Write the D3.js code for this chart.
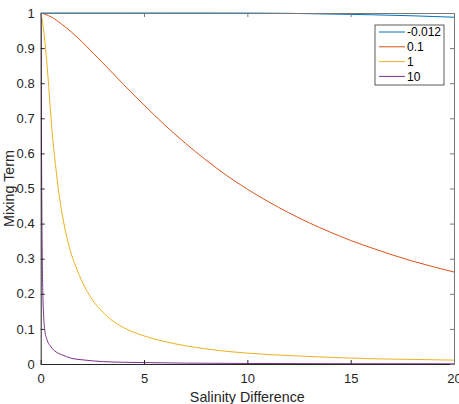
<!DOCTYPE html>
<html>
<head>
<meta charset="utf-8">
<script src="https://cdn.jsdelivr.net/npm/d3@7"></script>
<style>
body { margin: 0; background: #fff; }
svg { display: block; font-family: "Liberation Sans", Arial, Helvetica, sans-serif; }
</style>
</head>
<body>
<svg id="chart" width="459" height="404"></svg>
<script>
// ---- data ----
const seriesNames = ["-0.012", "0.1", "1", "10"];

const blueX = [0, 2, 4, 6, 8, 10, 11, 12, 13, 14, 15, 16, 17, 18, 19, 20];
const blueY = [1, 1, 1, 1, 1, 0.9998, 0.9995, 0.999, 0.998, 0.997, 0.996, 0.995, 0.9935, 0.992, 0.990, 0.988];

const redX = [0, 0.5, 1, 1.5, 2, 2.5, 3, 4, 5, 6, 7, 8, 9, 10, 11, 12, 13, 14, 15, 16, 17, 18, 19, 20];
const redY = [1, 0.989, 0.969, 0.945, 0.918, 0.888, 0.858, 0.797, 0.738, 0.681, 0.629, 0.581, 0.537, 0.498, 0.463, 0.431, 0.402, 0.376, 0.352, 0.331, 0.311, 0.293, 0.277, 0.262];

const yellowX = [0, 0.1, 0.2, 0.35, 0.5, 0.6, 0.75, 0.85, 1, 1.25, 1.5, 1.75, 2, 2.5, 3, 3.5, 4, 5, 6, 7, 8, 9, 10, 12, 14, 16, 18, 20];
const yellowY = [1, 0.97, 0.92, 0.82, 0.70, 0.63, 0.55, 0.50, 0.44, 0.365, 0.31, 0.27, 0.235, 0.183, 0.148, 0.122, 0.104, 0.080, 0.064, 0.052, 0.043, 0.036, 0.031, 0.024, 0.019, 0.015, 0.013, 0.011];

const purpleX = [0, 0.02, 0.04, 0.06, 0.08, 0.1, 0.15, 0.2, 0.3, 0.5, 0.75, 1, 1.5, 2, 3, 4, 5, 7, 10, 15, 20];
const purpleY = [1, 0.85, 0.6, 0.4, 0.28, 0.21, 0.13, 0.095, 0.07, 0.049, 0.034, 0.027, 0.016, 0.012, 0.0068, 0.005, 0.004, 0.0025, 0.0015, 0.0008, 0.0005];

const xTicks = [0, 5, 10, 15, 20];
const yTicks = [0, 0.1, 0.2, 0.3, 0.4, 0.5, 0.6, 0.7, 0.8, 0.9, 1];
const colors = ["#0072BD", "#D95319", "#EDB120", "#7E2F8E"];

// ---- layout ----
const W = 459, H = 404;
const m = { left: 40.7, right: 5, top: 13, bottom: 40 };
const pw = W - m.left - m.right, ph = H - m.top - m.bottom;

const svg = d3.select("#chart");
const g = svg.append("g").attr("transform", `translate(${m.left},${m.top})`);

const x = d3.scaleLinear().domain([0, 20]).range([0, pw]);
const y = d3.scaleLinear().domain([0, 1]).range([ph, 0]);

svg.append("defs").append("clipPath").attr("id", "clip")
  .append("rect").attr("x", 0).attr("y", -1).attr("width", pw).attr("height", ph + 2);

const series = [
  { xs: blueX, ys: blueY },
  { xs: redX, ys: redY },
  { xs: yellowX, ys: yellowY },
  { xs: purpleX, ys: purpleY }
];

const line = d3.line().x(d => x(d[0])).y(d => y(d[1])).curve(d3.curveMonotoneX);

const lines = g.append("g").attr("clip-path", "url(#clip)");
series.forEach((s, i) => {
  const pts = s.xs.map((v, k) => [v, s.ys[k]]);
  lines.append("path").datum(pts)
    .attr("fill", "none").attr("stroke", colors[i]).attr("stroke-width", 1)
    .attr("d", line);
});

// axes
const axisColor = "#262626";
const xAxis = d3.axisBottom(x).tickValues(xTicks).tickFormat(d3.format("d")).tickSizeInner(-4).tickSizeOuter(0).tickPadding(9.5);
const yAxis = d3.axisLeft(y).tickValues(yTicks).tickFormat(d => d === 0 || d === 1 ? String(d) : d3.format(".1f")(d)).tickSizeInner(-4).tickSizeOuter(0).tickPadding(6);

const gx = g.append("g").attr("transform", `translate(0,${ph})`).call(xAxis);
const gy = g.append("g").call(yAxis);
const gxt = g.append("g").call(d3.axisTop(x).tickValues(xTicks).tickFormat("").tickSizeInner(-4).tickSizeOuter(0));
const gyr = g.append("g").attr("transform", `translate(${pw},0)`).call(d3.axisRight(y).tickValues(yTicks).tickFormat("").tickSizeInner(-4).tickSizeOuter(0));

[gx, gy].forEach(a => {
  a.selectAll("path, line").attr("stroke", axisColor);
  a.selectAll("text").attr("fill", axisColor).style("font-size", "13px");
});
[gxt, gyr].forEach(a => {
  a.selectAll("path, line").attr("stroke", "#777");
});

// axis labels
g.append("text").attr("x", pw / 2).attr("y", ph + 37.5).attr("text-anchor", "middle")
  .attr("fill", axisColor).style("font-size", "14.3px").text("Salinity Difference");
svg.append("text").attr("transform", `translate(13.5,${m.top + ph / 2}) rotate(-90)`)
  .attr("text-anchor", "middle").attr("fill", axisColor).style("font-size", "14.3px").text("Mixing Term");

// legend
const lg = svg.append("g").attr("transform", "translate(375,25)");
lg.append("rect").attr("x", 0).attr("y", 0).attr("width", 69).attr("height", 60)
  .attr("fill", "#fff").attr("stroke", axisColor).attr("stroke-width", 0.75);
seriesNames.forEach((n, i) => {
  const yy = 7 + i * 14.8;
  lg.append("line").attr("x1", 4).attr("x2", 30).attr("y1", yy).attr("y2", yy)
    .attr("stroke", colors[i]).attr("stroke-width", 1);
  lg.append("text").attr("x", 32).attr("y", yy).attr("dy", "0.35em")
    .attr("fill", "#000").style("font-size", "12px").text(n);
});
</script>
</body>
</html>
